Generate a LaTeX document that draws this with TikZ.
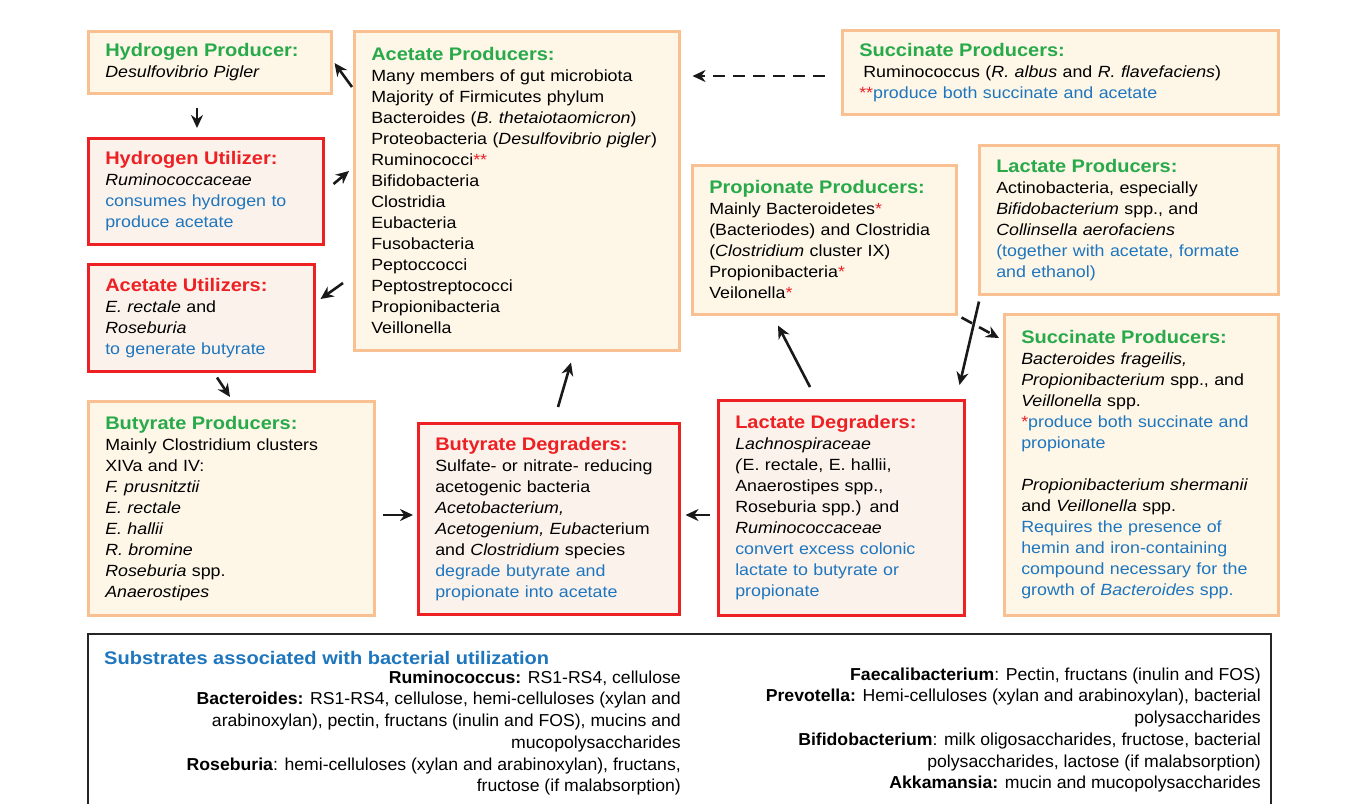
\documentclass[tikz,border=0pt]{standalone}
\usepackage{fontspec}
\setmainfont{Liberation Sans}[FakeStretch=1.1]
\newfontfamily\legendfont{Liberation Sans}[FakeStretch=1.02]
\usepackage{xcolor}
\usetikzlibrary{arrows.meta,positioning,shapes}

\definecolor{pgreen}{RGB}{40,170,75}
\definecolor{ured}{RGB}{237,32,36}
\definecolor{nblue}{RGB}{30,118,190}
\definecolor{pedge}{RGB}{249,192,145}
\definecolor{pfill}{RGB}{254,246,231}
\definecolor{ufill}{RGB}{252,242,236}

\newcommand{\prodtitle}[1]{{\fontsize{18.2}{21}\selectfont\bfseries\color{pgreen}#1}}
\newcommand{\constitle}[1]{{\fontsize{18.2}{21}\selectfont\bfseries\color{ured}#1}}
\newcommand{\bluetxt}[1]{\textcolor{nblue}{#1}}
\newcommand{\redmark}[1]{\textcolor{ured}{#1}}

\begin{document}
\begin{tikzpicture}[x=1pt, y=-1pt,
  bacbox/.style={draw, line width=2.5pt, anchor=north west, align=left,
    inner xsep=17pt, inner ysep=0pt, font=\fontsize{16.2}{21}\selectfont},
  prodbox/.style={bacbox, draw=pedge, fill=pfill},
  consbox/.style={bacbox, draw=ured, fill=ufill},
  legbox/.style={draw=black!85, line width=1.8pt, fill=white, anchor=north west},
  legtext/.style={inner sep=0pt, align=right, font=\legendfont\fontsize{17.3}{21.7}\selectfont},
  flow/.style={-{Stealth[length=13pt,width=12pt]}, line width=2.6pt, black!90},
  dflow/.style={flow, dash pattern=on 12pt off 8pt}]
  \useasboundingbox (0,0) rectangle (1356,803);

  % left column
  \node[prodbox, text width=209pt, minimum width=243pt, minimum height=62pt] (hprod) at (87,30)
    {\prodtitle{Hydrogen Producer:}\\ \textit{Desulfovibrio Pigler}};
  \node[consbox, text width=201pt, minimum width=235pt, minimum height=106pt] (hutil) at (87,137)
    {\constitle{Hydrogen Utilizer:}\\ \textit{Ruminococcaceae}\\
     \bluetxt{consumes hydrogen to}\\ \bluetxt{produce acetate}};
  \node[consbox, text width=192pt, minimum width=226pt, minimum height=107pt] (autil) at (87,263)
    {\constitle{Acetate Utilizers:}\\ \textit{E. rectale} and\\ \textit{Roseburia}\\
     \bluetxt{to generate butyrate}};
  \node[prodbox, text width=252pt, minimum width=286pt, minimum height=214pt] (bprod) at (87,400)
    {\prodtitle{Butyrate Producers:}\\ Mainly Clostridium clusters\\ XIVa and IV:\\
     \textit{F. prusnitztii}\\ \textit{E. rectale}\\ \textit{E. hallii}\\ \textit{R. bromine}\\
     \textit{Roseburia} spp.\\ \textit{Anaerostipes}};

  % middle column
  \node[prodbox, text width=291pt, minimum width=325pt, minimum height=319pt] (aprod) at (353,30)
    {\prodtitle{Acetate Producers:}\\ Many members of gut microbiota\\
     Majority of Firmicutes phylum\\ Bacteroides (\textit{B. thetaiotaomicron})\\
     Proteobacteria (\textit{Desulfovibrio pigler})\\ Ruminococci\redmark{**}\\
     Bifidobacteria\\ Clostridia\\ Eubacteria\\ Fusobacteria\\ Peptoccocci\\
     Peptostreptococci\\ Propionibacteria\\ Veillonella};
  \node[consbox, text width=227pt, minimum width=261pt, minimum height=191pt] (bdeg) at (417,422)
    {\constitle{Butyrate Degraders:}\\ Sulfate- or nitrate- reducing\\ acetogenic bacteria\\
     \textit{Acetobacterium,}\\ \textit{Acetogenium, Eubac}terium\\
     and \textit{Clostridium} species\\ \bluetxt{degrade butyrate and}\\
     \bluetxt{propionate into acetate}};

  % right side
  \node[prodbox, text width=402pt, minimum width=436pt, minimum height=84pt] (suctop) at (841,29)
    {\prodtitle{Succinate Producers:}\\
     \hspace*{4pt}Ruminococcus (\textit{R. albus} and \textit{R. flavefaciens})\\
     \redmark{**}\bluetxt{produce both succinate and acetate}};
  \node[prodbox, text width=230pt, minimum width=264pt, minimum height=149pt] (pprod) at (691,164)
    {\prodtitle{Propionate Producers:}\\ Mainly Bacteroidetes\redmark{*}\\
     (Bacteriodes) and Clostridia\\ (\textit{Clostridium} cluster IX)\\
     Propionibacteria\redmark{*}\\ Veilonella\redmark{*}};
  \node[prodbox, text width=265pt, minimum width=299pt, minimum height=149pt] (lprod) at (978,144)
    {\prodtitle{Lactate Producers:}\\ Actinobacteria, especially\\
     \textit{Bifidobacterium} spp., and\\ \textit{Collinsella aerofaciens}\\
     \bluetxt{(together with acetate, formate}\\ \bluetxt{and ethanol)}};
  \node[consbox, text width=212pt, minimum width=246pt, minimum height=215pt] (ldeg) at (717,399)
    {\constitle{Lactate Degraders:}\\ \textit{Lachnospiraceae}\\
     \textit{(}E. rectale, E. hallii,\\ Anaerostipes spp.,\\ Roseburia spp.) and\\
     \textit{Ruminococcaceae}\\ \bluetxt{convert excess colonic}\\
     \bluetxt{lactate to butyrate or}\\ \bluetxt{propionate}};
  \node[prodbox, text width=240pt, minimum width=274pt, minimum height=301pt] (sucright) at (1003,313)
    {\prodtitle{Succinate Producers:}\\ \textit{Bacteroides frageilis,}\\
     \textit{Propionibacterium} spp., and\\ \textit{Veillonella} spp.\\
     \redmark{*}\bluetxt{produce both succinate and}\\ \bluetxt{propionate}\\[21pt]
     \textit{Propionibacterium shermanii}\\ and \textit{Veillonella} spp.\\
     \bluetxt{Requires the presence of}\\ \bluetxt{hemin and iron-containing}\\
     \bluetxt{compound necessary for the}\\ \bluetxt{growth of \textit{Bacteroides} spp.}};

  % flows
  \draw[flow] ([shift={(-1,57)}]aprod.north west) -- ([shift={(2,33)}]hprod.north east);
  \draw[flow] ([shift={(110,13)}]hprod.south west) -- ([shift={(110,-9)}]hutil.north west);
  \draw[flow] ([shift={(9,47)}]hutil.north east) -- ([shift={(-4,141)}]aprod.north west);
  \draw[flow] ([shift={(-10,253)}]aprod.north west) -- ([shift={(5,36)}]autil.north east);
  \draw[flow] ([shift={(130,5)}]autil.south west) -- ([shift={(143,-3)}]bprod.north west);
  \draw[flow] ([shift={(7,115)}]bprod.north east) -- ([shift={(-4,93)}]bdeg.north west);
  \draw[flow] ([shift={(-7,116)}]ldeg.north west) -- ([shift={(5,93)}]bdeg.north east);
  \draw[flow] ([shift={(141,-15)}]bdeg.north west) -- ([shift={(218,11)}]aprod.south west);
  \draw[dflow] ([shift={(-16,47)}]suctop.north west) -- ([shift={(12,46)}]aprod.north east);
  \draw[flow] ([shift={(93,-12)}]ldeg.north west) -- ([shift={(87,10)}]pprod.south west);
  \draw[flow] ([shift={(1,6)}]lprod.south west) -- ([shift={(-6,-14)}]ldeg.north east);
  \draw[dflow] ([shift={(4,2)}]pprod.south east) -- ([shift={(-4,25)}]sucright.north west);

  % substrates
  \node[legbox, minimum width=1183pt, minimum height=200pt] (subs) at (87,633) {};
  \node[anchor=base west, inner sep=0pt, text=nblue, font=\fontsize{18.2}{21}\selectfont\bfseries]
    (substitle) at (104,664) {Substrates associated with bacterial utilization};
  \node[legtext, anchor=north east] (subleft) at (681,670.5)
    {\textbf{Ruminococcus:} RS1-RS4, cellulose\\
     \textbf{Bacteroides:} RS1-RS4, cellulose, hemi-celluloses (xylan and\\
     arabinoxylan), pectin, fructans (inulin and FOS), mucins and\\
     mucopolysaccharides\\
     \textbf{Roseburia}: hemi-celluloses (xylan and arabinoxylan), fructans,\\
     fructose (if malabsorption)};
  \node[legtext, anchor=north east] (subright) at (1261,667.5)
    {\textbf{Faecalibacterium}: Pectin, fructans (inulin and FOS)\\
     \textbf{Prevotella:} Hemi-celluloses (xylan and arabinoxylan), bacterial\\
     polysaccharides\\
     \textbf{Bifidobacterium}: milk oligosaccharides, fructose, bacterial\\
     polysaccharides, lactose (if malabsorption)\\
     \textbf{Akkamansia:} mucin and mucopolysaccharides};
\end{tikzpicture}
\end{document}
